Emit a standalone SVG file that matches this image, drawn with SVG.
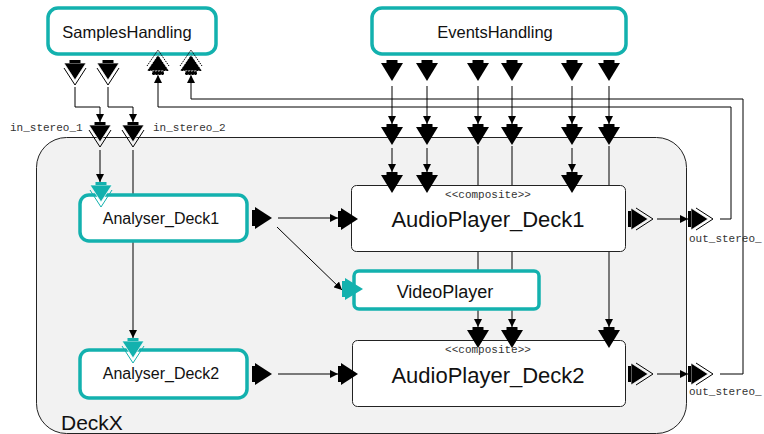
<svg xmlns="http://www.w3.org/2000/svg" width="764" height="434" viewBox="0 0 764 434">
<style>
.tbox{fill:#fff;stroke:#13b1ae;stroke-width:3.5}
.box{fill:#fff;stroke:#222;stroke-width:1}
.cont{fill:#f2f2f2;stroke:#222;stroke-width:1}
.conn{fill:none;stroke:#000;stroke-width:1}
.lbl{font-family:"Liberation Sans",Arial,sans-serif;fill:#111;text-anchor:middle}
.mono{font-family:"Liberation Mono","Courier New",monospace;font-size:11px;fill:#333}
</style>
<defs>
<marker id="ah" markerUnits="userSpaceOnUse" markerWidth="8" markerHeight="8" refX="8" refY="4" orient="auto">
<path d="M0,0 L8,4 L0,8 z" fill="#000"/>
</marker>
<g id="pD"><rect x="-5.5" y="0" width="11" height="3" fill="#000"/><polygon points="-11,3 11,3 0,21" fill="#000"/></g>
<g id="pDF"><polyline points="-11,8 0,25 11,8" fill="none" stroke="#000" stroke-width="1"/><polygon points="-11,3 11,3 0,20" fill="#000" stroke="#fff" stroke-width="0.7"/><rect x="-5.5" y="0" width="11" height="3" fill="#000"/></g>
<g id="pDT"><polyline points="-11,8 0,25 11,8" fill="none" stroke="#13b1ae" stroke-width="1"/><polygon points="-11,3 11,3 0,20" fill="#13b1ae" stroke="#fff" stroke-width="0.7"/><rect x="-5.5" y="0" width="11" height="3" fill="#13b1ae"/></g>
<g id="pR"><rect x="0" y="-8" width="3" height="16" fill="#000"/><polygon points="3,-11 3,11 20,0" fill="#000"/></g>
<g id="pRF"><polyline points="8,-11 25,0 8,11" fill="none" stroke="#000" stroke-width="1"/><polygon points="3,-11 3,11 20,0" fill="#000" stroke="#fff" stroke-width="0.7"/><rect x="0" y="-8" width="3" height="16" fill="#000"/></g>
<g id="pRT"><rect x="0" y="-8" width="3" height="16" fill="#13b1ae"/><polygon points="3,-11 3,11 21,0" fill="#13b1ae"/></g>
<g id="pUF"><polyline points="-11,-9 0,-25 11,-9" fill="none" stroke="#000" stroke-width="1" stroke-dasharray="1.5,1"/><polygon points="-11,-4 11,-4 0,-20" fill="#000" stroke="#fff" stroke-width="0.8" stroke-dasharray="1.5,1.5"/><rect x="-6" y="-4" width="12" height="4" fill="#000" stroke="#fff" stroke-width="0.8" stroke-dasharray="1.5,1.5"/></g>
</defs>

<g id="DeckX">
<rect class="cont" x="36.5" y="137.5" width="650" height="296" rx="30"/>
<text class="lbl" x="61" y="430" font-size="21" style="text-anchor:start">DeckX</text>
</g>

<g id="connectors">
<path class="conn" d="M75,87 V107 H100 V122" marker-end="url(#ah)"/>
<path class="conn" d="M108,87 V107 H133 V122" marker-end="url(#ah)"/>
<path class="conn" d="M100,150 V182" marker-end="url(#ah)"/>
<path class="conn" d="M133,150 V338" marker-end="url(#ah)"/>
<path class="conn" d="M392,86 V124" marker-end="url(#ah)"/>
<path class="conn" d="M427,86 V124" marker-end="url(#ah)"/>
<path class="conn" d="M478,86 V124" marker-end="url(#ah)"/>
<path class="conn" d="M512,86 V124" marker-end="url(#ah)"/>
<path class="conn" d="M572,86 V124" marker-end="url(#ah)"/>
<path class="conn" d="M609,86 V124" marker-end="url(#ah)"/>
<path class="conn" d="M392,148 V172" marker-end="url(#ah)"/>
<path class="conn" d="M427,148 V172" marker-end="url(#ah)"/>
<path class="conn" d="M572,148 V172" marker-end="url(#ah)"/>
<path class="conn" d="M478,146 V327" marker-end="url(#ah)"/>
<path class="conn" d="M512,146 V327" marker-end="url(#ah)"/>
<path class="conn" d="M609,146 V327" marker-end="url(#ah)"/>
<path class="conn" d="M278,218 H338" marker-end="url(#ah)"/>
<path class="conn" d="M277,227 L342,290" marker-end="url(#ah)"/>
<path class="conn" d="M278,374 H338" marker-end="url(#ah)"/>
<path class="conn" d="M657,219 H688" marker-end="url(#ah)"/>
<path class="conn" d="M657,374 H688" marker-end="url(#ah)"/>
<path class="conn" d="M720,219 H731 V107 H158 V75" marker-end="url(#ah)"/>
<path class="conn" d="M720,374 H743 V99 H191 V75" marker-end="url(#ah)"/>
</g>

<g id="DeckX_ports">
<use href="#pDF" x="100" y="122"/>
<use href="#pDF" x="133" y="122"/>
<text class="mono" x="10" y="131">in_stereo_1</text>
<text class="mono" x="153" y="131">in_stereo_2</text>
<use href="#pD" x="392" y="124"/>
<use href="#pD" x="427" y="124"/>
<use href="#pD" x="478" y="124"/>
<use href="#pD" x="512" y="124"/>
<use href="#pD" x="572" y="124"/>
<use href="#pD" x="609" y="124"/>
<use href="#pRF" x="688" y="219"/>
<use href="#pRF" x="688" y="374"/>
<text class="mono" x="689" y="242">out_stereo_</text>
<text class="mono" x="689" y="395">out_stereo_</text>
</g>

<g id="SamplesHandling">
<rect class="tbox" x="48" y="8" width="168" height="46" rx="10"/>
<text class="lbl" x="127" y="38" font-size="16.5">SamplesHandling</text>
<use href="#pDF" x="75" y="60"/>
<use href="#pDF" x="108" y="60"/>
<use href="#pUF" x="158" y="75"/>
<use href="#pUF" x="191" y="75"/>
</g>

<g id="EventsHandling">
<rect class="tbox" x="372" y="8" width="254" height="46" rx="10"/>
<text class="lbl" x="495" y="38" font-size="16.5">EventsHandling</text>
<use href="#pD" x="392" y="60"/>
<use href="#pD" x="427" y="60"/>
<use href="#pD" x="478" y="60"/>
<use href="#pD" x="512" y="60"/>
<use href="#pD" x="572" y="60"/>
<use href="#pD" x="609" y="60"/>
</g>

<g id="Analyser_Deck1">
<rect class="tbox" x="80" y="195" width="167" height="46" rx="9"/>
<text class="lbl" x="161" y="224" font-size="16">Analyser_Deck1</text>
<use href="#pDT" x="101" y="182"/>
<use href="#pR" x="252" y="218"/>
</g>

<g id="Analyser_Deck2">
<rect class="tbox" x="80" y="350" width="167" height="48" rx="9"/>
<text class="lbl" x="161" y="379" font-size="16">Analyser_Deck2</text>
<use href="#pDT" x="133" y="338"/>
<use href="#pR" x="252" y="374"/>
</g>

<g id="AudioPlayer_Deck1">
<rect class="box" x="351.5" y="185.5" width="274" height="66" rx="5"/>
<text class="mono" x="488" y="198" style="text-anchor:middle">&lt;&lt;composite&gt;&gt;</text>
<text class="lbl" x="488" y="227" font-size="22">AudioPlayer_Deck1</text>
<use href="#pR" x="338" y="219"/>
<use href="#pD" x="392" y="172"/>
<use href="#pD" x="427" y="172"/>
<use href="#pD" x="572" y="172"/>
<use href="#pRF" x="628" y="219"/>
</g>

<g id="VideoPlayer">
<rect class="tbox" x="354" y="271" width="185" height="38" rx="5"/>
<text class="lbl" x="445" y="298" font-size="18">VideoPlayer</text>
<use href="#pRT" x="342" y="289"/>
</g>

<g id="AudioPlayer_Deck2">
<rect class="box" x="352.5" y="340.5" width="273" height="66" rx="5"/>
<text class="mono" x="488" y="353" style="text-anchor:middle">&lt;&lt;composite&gt;&gt;</text>
<text class="lbl" x="488" y="383" font-size="22">AudioPlayer_Deck2</text>
<use href="#pR" x="338" y="374"/>
<use href="#pD" x="478" y="327"/>
<use href="#pD" x="512" y="327"/>
<use href="#pD" x="609" y="327"/>
<use href="#pRF" x="628" y="374"/>
</g>
</svg>
